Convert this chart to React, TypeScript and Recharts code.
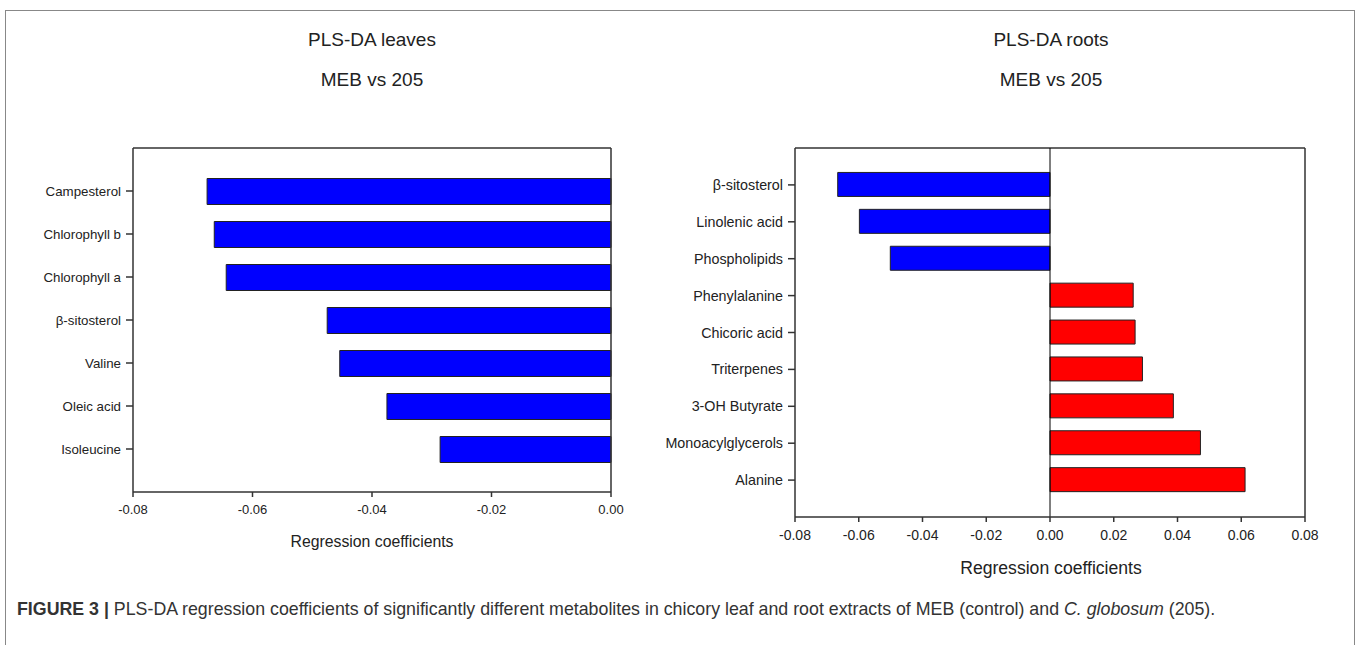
import { Bar, BarChart, CartesianGrid, Cell, ReferenceLine, XAxis, YAxis } from "recharts";

const leafNames = ["Campesterol", "Chlorophyll b", "Chlorophyll a", "β-sitosterol", "Valine", "Oleic acid", "Isoleucine"];
const leafValues = [-0.0676, -0.0664, -0.0644, -0.0475, -0.0454, -0.0375, -0.0286];
const leafTicks = [-0.08, -0.06, -0.04, -0.02, 0];

const rootNames = [
  "β-sitosterol",
  "Linolenic acid",
  "Phospholipids",
  "Phenylalanine",
  "Chicoric acid",
  "Triterpenes",
  "3-OH Butyrate",
  "Monoacylglycerols",
  "Alanine",
];
const rootValues = [-0.0666, -0.0598, -0.0501, 0.0261, 0.0267, 0.029, 0.0387, 0.0472, 0.0612];
const rootTicks = [-0.08, -0.06, -0.04, -0.02, 0, 0.02, 0.04, 0.06, 0.08];

const FONT = "'Liberation Sans', Arial, sans-serif";
const AXIS = "#333";

const leafData = leafNames.map((name, i) => ({ name, value: leafValues[i] }));
const rootData = rootNames.map((name, i) => ({ name, value: rootValues[i] }));

const fmt = (v: number) => v.toFixed(2);
// top edge of the plot box
const topLine = ({ offset }: any) => [offset.top];

function Text({ x, y, size, children }: { x: number; y: number; size: number; children: React.ReactNode }) {
  return (
    <div
      style={{
        position: "absolute",
        left: x - 300,
        top: y - size * 0.6,
        width: 600,
        textAlign: "center",
        fontSize: size,
        lineHeight: `${size * 1.2}px`,
        color: "#222",
      }}
    >
      {children}
    </div>
  );
}

export default function App() {
  return (
    <div style={{ position: "absolute", left: 0, top: 0, width: 1360, height: 645, background: "#fff", fontFamily: FONT, overflow: "hidden" }}>
      <div
        style={{
          position: "absolute",
          left: 5,
          top: 10,
          width: 1348,
          height: 700,
          borderTop: "1.5px solid #888",
          borderLeft: "1.5px solid #888",
          borderRight: "1.5px solid #888",
        }}
      />

      <Text x={372} y={40} size={19}>PLS-DA leaves</Text>
      <Text x={372} y={80} size={19}>MEB vs 205</Text>
      <Text x={1051} y={40} size={19}>PLS-DA roots</Text>
      <Text x={1051} y={80} size={19}>MEB vs 205</Text>
      <Text x={372} y={542} size={15.8}>Regression coefficients</Text>
      <Text x={1051} y={569} size={17.6}>Regression coefficients</Text>

      <div style={{ position: "absolute", left: 0, top: 0 }}>
        <BarChart width={680} height={645} data={leafData} layout="vertical" margin={{ top: 148, right: 69, bottom: 93, left: 13 }}>
          <CartesianGrid vertical={false} horizontalCoordinatesGenerator={topLine} stroke={AXIS} strokeWidth={1.5} />
          <XAxis
            type="number"
            dataKey="value"
            domain={[-0.08, 0]}
            ticks={leafTicks}
            tickFormatter={fmt}
            height={60}
            tickSize={5}
            tickMargin={8}
            tick={{ fontSize: 13, fill: "#222", fontFamily: FONT }}
            stroke={AXIS}
            strokeWidth={1.5}
          />
          <YAxis
            type="category"
            dataKey="name"
            width={120}
            padding={{ top: 21.5, bottom: 21.5 }}
            tickSize={7}
            tickMargin={5}
            tick={{ fontSize: 13.3, fill: "#222", fontFamily: FONT }}
            stroke={AXIS}
            strokeWidth={1.5}
          />
          <ReferenceLine x={0} stroke={AXIS} strokeWidth={1.5} />
          <Bar dataKey="value" barSize={26} stroke="#222" strokeWidth={1} isAnimationActive={false}>
            {leafData.map((d) => (
              <Cell key={d.name} fill={d.value < 0 ? "#0000ff" : "#ff0000"} />
            ))}
          </Bar>
        </BarChart>
      </div>

      <div style={{ position: "absolute", left: 640, top: 0 }}>
        <BarChart width={720} height={645} data={rootData} layout="vertical" margin={{ top: 148, right: 55, bottom: 68, left: 45 }}>
          <CartesianGrid vertical={false} horizontalCoordinatesGenerator={topLine} stroke={AXIS} strokeWidth={1.5} />
          <XAxis
            type="number"
            dataKey="value"
            domain={[-0.08, 0.08]}
            ticks={rootTicks}
            tickFormatter={fmt}
            height={60}
            tickSize={5}
            tickMargin={8}
            tick={{ fontSize: 14, fill: "#222", fontFamily: FONT }}
            stroke={AXIS}
            strokeWidth={1.5}
          />
          <YAxis
            type="category"
            dataKey="name"
            width={110}
            padding={{ top: 18.45, bottom: 18.45 }}
            tickSize={7}
            tickMargin={5}
            tick={{ fontSize: 14.3, fill: "#222", fontFamily: FONT }}
            stroke={AXIS}
            strokeWidth={1.5}
          />
          <ReferenceLine x={0.08} stroke={AXIS} strokeWidth={1.5} />
          <ReferenceLine x={0} stroke="#000" strokeWidth={1} />
          <Bar dataKey="value" barSize={24} stroke="#222" strokeWidth={1} isAnimationActive={false}>
            {rootData.map((d) => (
              <Cell key={d.name} fill={d.value < 0 ? "#0000ff" : "#ff0000"} />
            ))}
          </Bar>
        </BarChart>
      </div>

      <div style={{ position: "absolute", left: 17, top: 598, fontSize: 17.8, lineHeight: "22px", color: "#333", whiteSpace: "nowrap" }}>
        <b>FIGURE 3 |</b> PLS-DA regression coefficients of significantly different metabolites in chicory leaf and root extracts of MEB (control) and{" "}
        <i>C. globosum</i> (205).
      </div>
    </div>
  );
}
